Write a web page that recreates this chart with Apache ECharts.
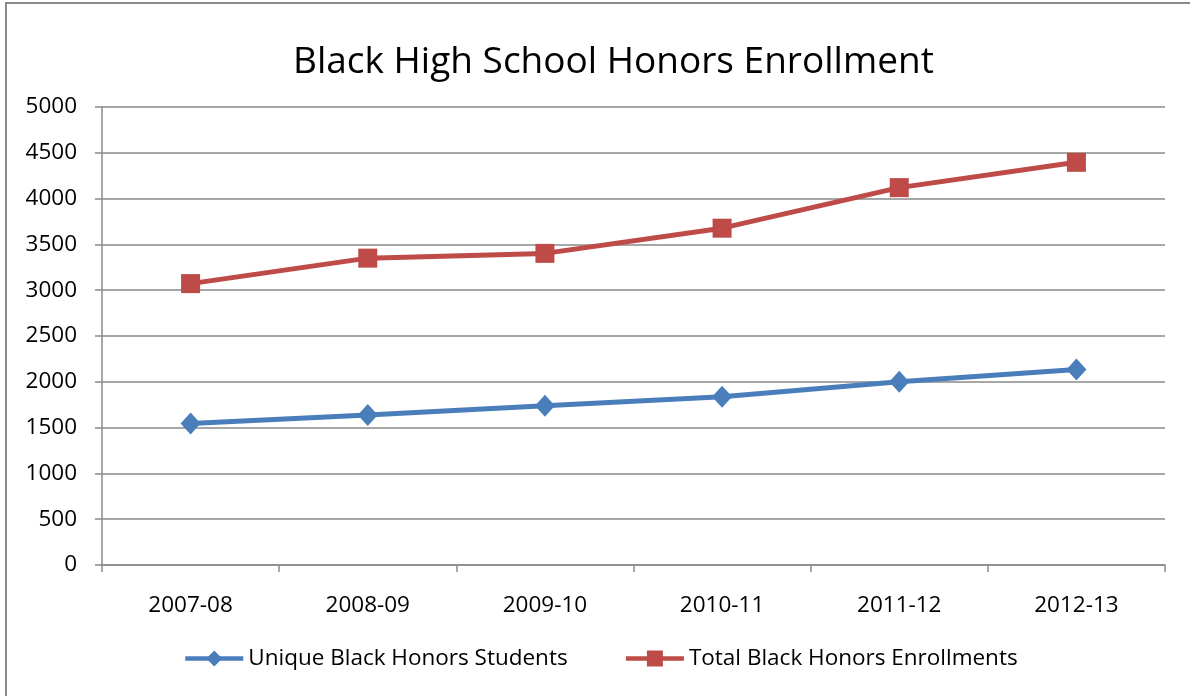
<!DOCTYPE html>
<html><head><meta charset="utf-8">
<script src="https://cdn.jsdelivr.net/npm/echarts@6/dist/echarts.min.js"></script>
<style>html,body{margin:0;padding:0;background:#fff}#c{width:1190px;height:696px}</style>
</head><body><div id="c"></div>
<script>
const categories = ['2007-08','2008-09','2009-10','2010-11','2011-12','2012-13'];
const uniqueStudents = [1545, 1638, 1738, 1838, 2000, 2135];
const totalEnrollments = [3072, 3350, 3402, 3677, 4120, 4396];
const seriesNames = ['Unique Black Honors Students', 'Total Black Honors Enrollments'];

const font = 'Open Sans';
const chart = echarts.init(document.getElementById('c'));
chart.setOption({
  animation: false,
  backgroundColor: '#fff',
  title: {
    text: 'Black High School Honors Enrollment',
    left: 288, top: 39,
    textStyle: {fontFamily: font, fontSize: 37, fontWeight: 'normal', color: '#000'}
  },
  graphic: [{
    type: 'rect', shape: {x: 6, y: 3, width: 1200, height: 720},
    style: {fill: 'none', stroke: '#8a8a8a', lineWidth: 2}, silent: true
  }],
  legend: {
    top: 642, left: 178, itemGap: 56, itemWidth: 58, itemHeight: 20,
    textStyle: {fontFamily: font, fontSize: 22.5, color: '#000'},
    lineStyle: {width: 4.5},
    data: seriesNames
  },
  grid: {left: 102, right: 25, top: 107, bottom: 131},
  xAxis: {
    type: 'category', data: categories, boundaryGap: true,
    axisLine: {lineStyle: {color: '#8a8a8a', width: 1.5}},
    axisTick: {show: true, length: 7, lineStyle: {color: '#8a8a8a', width: 1.5}},
    axisLabel: {fontFamily: font, fontSize: 22.5, color: '#000', margin: 29}
  },
  yAxis: {
    type: 'value', min: 0, max: 5000, interval: 500,
    axisLine: {show: true, lineStyle: {color: '#8a8a8a', width: 1.5}},
    axisTick: {show: true, length: 7, lineStyle: {color: '#8a8a8a', width: 1.5}},
    axisLabel: {fontFamily: font, fontSize: 22.5, color: '#000', margin: 25,
      formatter: v => String(v)},
    splitLine: {lineStyle: {color: '#8a8a8a', width: 1.5}}
  },
  series: [
    {name: seriesNames[0], type: 'line', data: uniqueStudents,
     symbol: 'diamond', symbolSize: [20, 22],
     itemStyle: {color: '#4a7ebb'}, lineStyle: {color: '#4a7ebb', width: 5}},
    {name: seriesNames[1], type: 'line', data: totalEnrollments,
     symbol: 'rect', symbolSize: 19,
     itemStyle: {color: '#be4b48'}, lineStyle: {color: '#be4b48', width: 5}}
  ]
});
</script></body></html>
